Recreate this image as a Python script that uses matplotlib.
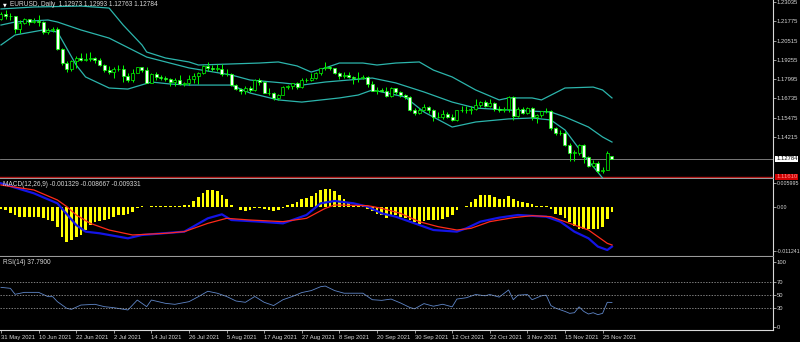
import numpy as np
import matplotlib.pyplot as plt
from matplotlib.transforms import blended_transform_factory

plt.rcParams['font.family'] = ['Liberation Sans', 'DejaVu Sans']

# ---- price data (EURUSD daily, 31 May 2021 .. 29 Nov 2021) ----
opens = [1.2193, 1.2227, 1.2213, 1.2212, 1.2127, 1.2167, 1.2193, 1.2173, 1.2180, 1.2175,
         1.2108, 1.2121, 1.2125, 1.1995, 1.1906, 1.1863, 1.1917, 1.1941, 1.1926, 1.1930,
         1.1936, 1.1925, 1.1895, 1.1858, 1.1848, 1.1865, 1.1866, 1.1823, 1.1791, 1.1843,
         1.1876, 1.1861, 1.1775, 1.1835, 1.1813, 1.1806, 1.1800, 1.1780, 1.1793, 1.1771,
         1.1772, 1.1801, 1.1818, 1.1842, 1.1888, 1.1870, 1.1869, 1.1869, 1.1835, 1.1832,
         1.1761, 1.1736, 1.1720, 1.1740, 1.1727, 1.1796, 1.1780, 1.1712, 1.1709, 1.1675,
         1.1699, 1.1747, 1.1754, 1.1772, 1.1751, 1.1795, 1.1797, 1.1807, 1.1837, 1.1875,
         1.1880, 1.1870, 1.1840, 1.1818, 1.1825, 1.1813, 1.1808, 1.1804, 1.1817, 1.1765,
         1.1725, 1.1728, 1.1724, 1.1688, 1.1740, 1.1719, 1.1695, 1.1683, 1.1597, 1.1580,
         1.1596, 1.1620, 1.1597, 1.1554, 1.1552, 1.1572, 1.1552, 1.1530, 1.1595, 1.1598,
         1.1601, 1.1607, 1.1634, 1.1651, 1.1623, 1.1644, 1.1608, 1.1596, 1.1603, 1.1682,
         1.1557, 1.1608, 1.1580, 1.1611, 1.1554, 1.1567, 1.1589, 1.1593, 1.1480, 1.1445,
         1.1445, 1.1368, 1.1320, 1.1320, 1.1370, 1.1289, 1.1235, 1.1250, 1.1198, 1.1209,
         1.12973]
highs = [1.2241, 1.2254, 1.2229, 1.2214, 1.2185, 1.2199, 1.2195, 1.2199, 1.2218, 1.2181,
         1.2132, 1.2143, 1.2140, 1.2000, 1.1917, 1.1922, 1.1954, 1.1970, 1.1968, 1.1975,
         1.1945, 1.1938, 1.1900, 1.1884, 1.1876, 1.1895, 1.1895, 1.1838, 1.1868, 1.1880,
         1.1880, 1.1880, 1.1838, 1.1849, 1.1829, 1.1823, 1.1809, 1.1804, 1.1829, 1.1781,
         1.1826, 1.1841, 1.1849, 1.1892, 1.1909, 1.1892, 1.1898, 1.1901, 1.1864, 1.1838,
         1.1765, 1.1744, 1.1752, 1.1752, 1.1800, 1.1805, 1.1785, 1.1740, 1.1716, 1.1705,
         1.1752, 1.1764, 1.1775, 1.1780, 1.1810, 1.1810, 1.1840, 1.1845, 1.1875, 1.1909,
         1.1885, 1.1873, 1.1845, 1.1845, 1.1845, 1.1820, 1.1845, 1.1830, 1.1820, 1.1785,
         1.1750, 1.1745, 1.1750, 1.1750, 1.1745, 1.1720, 1.1700, 1.1690, 1.1610, 1.1610,
         1.1640, 1.1625, 1.1605, 1.1585, 1.1595, 1.1585, 1.1572, 1.1600, 1.1625, 1.1624,
         1.1625, 1.1668, 1.1660, 1.1665, 1.1670, 1.1650, 1.1625, 1.1620, 1.1692, 1.1692,
         1.1615, 1.1615, 1.1616, 1.1620, 1.1570, 1.1594, 1.1609, 1.1595, 1.1485, 1.1465,
         1.1464, 1.1386, 1.1340, 1.1374, 1.1373, 1.1300, 1.1274, 1.1262, 1.1225, 1.1331,
         1.12993]
lows = [1.2188, 1.2195, 1.2184, 1.2103, 1.2104, 1.2158, 1.2153, 1.2166, 1.2144, 1.2093,
        1.2093, 1.2105, 1.1990, 1.1892, 1.1847, 1.1850, 1.1874, 1.1920, 1.1916, 1.1920,
        1.1905, 1.1883, 1.1847, 1.1835, 1.1807, 1.1855, 1.1782, 1.1781, 1.1782, 1.1839,
        1.1845, 1.1772, 1.1772, 1.1796, 1.1796, 1.1788, 1.1755, 1.1752, 1.1762, 1.1752,
        1.1764, 1.1772, 1.1771, 1.1836, 1.1853, 1.1856, 1.1852, 1.1821, 1.1822, 1.1754,
        1.1730, 1.1706, 1.1705, 1.1718, 1.1724, 1.1762, 1.1711, 1.1695, 1.1664, 1.1664,
        1.1696, 1.1734, 1.1735, 1.1735, 1.1740, 1.1780, 1.1790, 1.1800, 1.1825, 1.1860,
        1.1862, 1.1833, 1.1800, 1.1806, 1.1810, 1.1770, 1.1780, 1.1800, 1.1750, 1.1722,
        1.1701, 1.1713, 1.1685, 1.1685, 1.1700, 1.1680, 1.1670, 1.1592, 1.1563, 1.1570,
        1.1590, 1.1580, 1.1529, 1.1545, 1.1540, 1.1545, 1.1524, 1.1525, 1.1585, 1.1580,
        1.1570, 1.1600, 1.1620, 1.1620, 1.1620, 1.1590, 1.1586, 1.1585, 1.1585, 1.1535,
        1.1555, 1.1575, 1.1570, 1.1530, 1.1513, 1.1555, 1.1576, 1.1465, 1.1433, 1.1432,
        1.1366, 1.1263, 1.1264, 1.1307, 1.1250, 1.1226, 1.1226, 1.1186, 1.1186, 1.1204,
        1.12763]
closes = [1.2227, 1.2213, 1.2212, 1.2127, 1.2167, 1.2193, 1.2173, 1.2180, 1.2175, 1.2108,
          1.2121, 1.2125, 1.1995, 1.1906, 1.1863, 1.1917, 1.1941, 1.1926, 1.1930, 1.1936,
          1.1925, 1.1895, 1.1858, 1.1848, 1.1865, 1.1866, 1.1823, 1.1791, 1.1843, 1.1876,
          1.1861, 1.1775, 1.1835, 1.1813, 1.1806, 1.1800, 1.1780, 1.1793, 1.1771, 1.1772,
          1.1801, 1.1818, 1.1842, 1.1888, 1.1870, 1.1869, 1.1869, 1.1835, 1.1832, 1.1761,
          1.1736, 1.1720, 1.1740, 1.1727, 1.1796, 1.1780, 1.1712, 1.1709, 1.1675, 1.1699,
          1.1747, 1.1754, 1.1772, 1.1751, 1.1795, 1.1797, 1.1807, 1.1837, 1.1875, 1.1880,
          1.1870, 1.1840, 1.1818, 1.1825, 1.1813, 1.1808, 1.1804, 1.1817, 1.1765, 1.1725,
          1.1728, 1.1724, 1.1688, 1.1740, 1.1719, 1.1695, 1.1683, 1.1597, 1.1580, 1.1596,
          1.1620, 1.1597, 1.1554, 1.1552, 1.1572, 1.1552, 1.1530, 1.1595, 1.1598, 1.1601,
          1.1607, 1.1634, 1.1651, 1.1623, 1.1644, 1.1608, 1.1596, 1.1603, 1.1682, 1.1557,
          1.1608, 1.1580, 1.1611, 1.1554, 1.1567, 1.1589, 1.1593, 1.1480, 1.1445, 1.1445,
          1.1368, 1.1320, 1.1320, 1.1370, 1.1289, 1.1235, 1.1250, 1.1198, 1.1209, 1.1318,
          1.12784]

# Bollinger bands (at selected bars)
bb_up_idx = [0, 7, 17, 23, 26, 30, 31, 35, 40, 42, 49, 55, 59, 63, 66, 69, 72, 77, 80, 84,
             89, 92, 96, 101, 106, 108, 113, 115, 120, 126, 128, 130]
bb_up = [1.2258, 1.2271, 1.2277, 1.2264, 1.2153, 1.2023, 1.1977, 1.1938, 1.1912, 1.1892,
         1.1899, 1.1905, 1.1912, 1.1886, 1.1846, 1.1873, 1.1905, 1.1905, 1.1892, 1.1905,
         1.1912, 1.1859, 1.1814, 1.1729, 1.1664, 1.1677, 1.1677, 1.1664, 1.1742, 1.1748,
         1.1729, 1.1677]
bb_mid_idx = [0, 3, 10, 12, 17, 23, 31, 40, 49, 53, 60, 64, 69, 74, 79, 84, 90, 96, 101,
              108, 117, 120, 125, 128, 130]
bb_mid = [1.2153, 1.2173, 1.2186, 1.2173, 1.2121, 1.2068, 1.1944, 1.1873, 1.1827, 1.1794,
          1.1775, 1.1761, 1.1781, 1.1794, 1.1807, 1.1775, 1.1716, 1.1650, 1.1611, 1.1598,
          1.1585, 1.1553, 1.1487, 1.1422, 1.1389]
bb_low_idx = [0, 3, 9, 12, 13, 16, 18, 23, 27, 32, 36, 40, 49, 53, 59, 64, 72, 76, 79, 81,
              86, 90, 96, 101, 108, 113, 117, 120, 124, 128]
bb_low = [1.2023, 1.2088, 1.2121, 1.2108, 1.2055, 1.1892, 1.1814, 1.1742, 1.1735, 1.1781,
          1.1768, 1.1761, 1.1761, 1.1709, 1.1664, 1.1650, 1.1677, 1.1696, 1.1729, 1.1716,
          1.1683, 1.1585, 1.1487, 1.1520, 1.1540, 1.1546, 1.1533, 1.1468, 1.1304, 1.1154]

# MACD(12,26,9), values in thousandths
macd_hist = [-0.43, -0.68, -1.45, -2.13, -2.55, -2.55, -2.55, -2.55, -2.64, -2.81,
             -3.40, -3.66, -5.10, -7.65, -8.93, -8.50, -7.65, -7.06, -5.95, -4.68,
             -3.83, -3.66, -3.40, -2.98, -2.55, -2.13, -2.13, -1.70, -1.28, -0.17,
             0.25, 0.10, 0.30, 0.25, 0.30, 0.35, 0.25, 0.30, 0.35, 0.45,
             0.60, 1.45, 2.55, 3.66, 4.25, 4.25, 4.00, 2.98, 1.96, 0.60,
             -0.05, -0.85, -1.10, -0.68, -0.17, -0.17, -0.43, -0.85, -1.10, -0.85,
             -0.17, 0.43, 0.85, 1.28, 1.96, 2.38, 2.81, 3.66, 4.25, 4.50,
             4.50, 4.00, 2.98, 1.96, 1.10, 0.60, 0.43, 0.17, -0.43, -1.10,
             -1.70, -2.13, -2.81, -2.13, -2.13, -2.55, -2.81, -3.40, -3.83, -4.25,
             -3.66, -3.23, -3.23, -3.40, -2.98, -2.55, -1.96, -0.85, 0.00, 0.34,
             1.28, 2.13, 2.98, 3.15, 2.98, 2.55, 1.96, 2.13, 2.81, 1.96,
             1.45, 1.28, 1.02, 0.77, 0.26, 0.17, 0.26, -0.43, -1.70, -2.13,
             -2.81, -3.83, -4.93, -5.53, -5.53, -5.70, -5.70, -5.53, -5.10, -3.15,
             -1.33]
macd_main_idx = [0, 7, 12, 16, 18, 21, 27, 30, 39, 44, 47, 49, 55, 60, 65, 68, 71, 75, 78,
                 81, 84, 88, 92, 97, 99, 102, 106, 110, 116, 119, 122, 125, 127, 129, 130]
macd_main = [6.04, 3.49, 0.94, -4.59, -6.29, -6.71, -7.99, -7.14, -6.29, -2.89, -1.87,
             -3.32, -3.74, -4.17, -2.04, 0.94, 1.53, 0.94, 0.09, -1.62, -2.47, -4.17, -5.87,
             -6.29, -5.44, -3.74, -2.72, -2.04, -2.47, -3.74, -6.29, -7.99, -10.1, -10.97,
             -10.1]
macd_sig_idx = [0, 7, 12, 14, 16, 19, 23, 28, 35, 39, 44, 48, 53, 60, 65, 69, 71, 78, 81,
                85, 89, 93, 97, 100, 104, 109, 113, 117, 121, 125, 129, 130]
macd_sig = [5.61, 4.34, 1.79, 0.09, -2.04, -4.17, -5.87, -7.14, -6.71, -6.29, -4.17, -2.89,
            -3.32, -3.74, -2.89, -0.34, 0.51, 0.34, -0.34, -1.62, -3.74, -5.02, -5.87,
            -5.44, -3.74, -2.72, -2.21, -2.47, -4.17, -5.87, -9.27, -9.69]

# RSI(14)
rsi_idx = [0, 2, 3, 5, 8, 10, 11, 12, 14, 15, 17, 20, 22, 24, 27, 28, 29, 31, 32, 35,
           37, 40, 42, 44, 46, 48, 50, 52, 54, 56, 58, 60, 62, 64, 66, 68, 69, 71, 73, 75,
           77, 79, 81, 83, 85, 87, 88, 90, 92, 94, 96, 97, 99, 101, 103, 104, 106, 108, 109,
           110, 112, 113, 115, 116, 117, 118, 120, 121, 122, 123, 124, 125, 126, 127, 128,
           129, 130]
rsi_vals = [61, 59.5, 50.3, 53.3, 53.3, 46.7, 46.7, 39, 28.7, 27.2, 33.8, 34.9, 31.3, 29.7,
            26.2, 33.8, 41.5, 31.3, 41.5, 36.4, 34.9, 39, 46.7, 55, 52, 47, 40, 38, 47, 38,
            33, 42, 47, 53, 56, 62, 63, 56, 52, 52, 52, 42, 41, 43, 37, 30, 28, 36, 32, 35,
            31, 43, 45, 50, 48, 50, 46, 57, 42, 49, 50, 42, 48, 49, 33, 29, 24, 21, 22, 31,
            24, 20, 22, 19, 21, 38, 37.79]

date_labels = ['31 May 2021', '10 Jun 2021', '22 Jun 2021', '2 Jul 2021', '14 Jul 2021',
               '26 Jul 2021', '5 Aug 2021', '17 Aug 2021', '27 Aug 2021', '8 Sep 2021',
               '20 Sep 2021', '30 Sep 2021', '12 Oct 2021', '22 Oct 2021', '3 Nov 2021',
               '15 Nov 2021', '25 Nov 2021']
date_idx = [0, 8, 16, 24, 32, 40, 48, 56, 64, 72, 80, 88, 96, 104, 112, 120, 128]

price_ticks = [1.23035, 1.21775, 1.20515, 1.19255, 1.17995, 1.16735, 1.15475, 1.14215]
alert_level = 1.11610

# ---- layout in pixels (800 x 342) ----
W, H = 800, 342
FG = '#d8d8d8'
FS = 4.2


def rect(x0, y0, x1, y1):
    return [x0 / W, 1 - y1 / H, (x1 - x0) / W, (y1 - y0) / H]


fig = plt.figure(figsize=(8, 3.42), dpi=100, facecolor='black')
ax_p = fig.add_axes(rect(0, 0, 773, 178))
ax_m = fig.add_axes(rect(0, 179, 773, 256))
ax_r = fig.add_axes(rect(0, 257, 773, 330))

xlim = (-0.21, 164.26)
for ax in (ax_p, ax_m, ax_r):
    ax.set_facecolor('black')
    ax.set_xlim(*xlim)
    ax.spines['top'].set_visible(False)
    ax.spines['left'].set_visible(False)
    ax.spines['right'].set_color(FG)
    ax.spines['right'].set_linewidth(0.8)
    ax.spines['bottom'].set_color('#9a9a9a')
    ax.spines['bottom'].set_linewidth(0.8)
    ax.yaxis.tick_right()
    ax.tick_params(axis='y', colors=FG, labelsize=FS, length=2, width=0.5, pad=0.6)

# ---- price panel ----
x = np.arange(len(closes))
o = np.array(opens)
c = np.array(closes)
ax_p.vlines(x, lows, highs, color='#00ff00', lw=0.7, zorder=2)
body = np.where(np.abs(c - o) < 0.00008, 0.00008, c - o)
fill = ['white' if cc < oo else 'black' for oo, cc in zip(o, c)]
ax_p.bar(x, body, bottom=o, width=0.64, color=fill, edgecolor='#00ff00',
         linewidth=0.5, zorder=3)

band_col = '#2cb5ac'
ax_p.plot(bb_up_idx, bb_up, color=band_col, lw=0.9, zorder=1)
ax_p.plot(bb_mid_idx, bb_mid, color=band_col, lw=0.9, zorder=1)
ax_p.plot(bb_low_idx, bb_low, color=band_col, lw=0.9, zorder=1)

ax_p.axhline(closes[-1], color='#8c8c8c', lw=0.6, zorder=0)
ax_p.axhline(alert_level, color='#b01010', lw=1.0, zorder=0)

ax_p.set_ylim(1.11542, 1.23166)
ax_p.set_yticks(price_ticks)
ax_p.set_yticklabels([f'{v:.5f}' for v in price_ticks])
ax_p.set_xticks([])

tr = blended_transform_factory(ax_p.transAxes, ax_p.transData)
ax_p.text(1.004, closes[-1], f'{closes[-1]:.5f}', transform=tr, fontsize=FS,
          color='black', va='center', ha='left',
          bbox=dict(boxstyle='square,pad=0.15', fc='white', ec='none'))
ax_p.text(1.004, alert_level, f'{alert_level:.5f}', transform=tr, fontsize=FS,
          color='#ff9090', va='center', ha='left', clip_on=False,
          bbox=dict(boxstyle='square,pad=0.15', fc='#d00000', ec='none'))

ax_p.text(3 / 773, 1 - 5 / 178, '\u25bc', transform=ax_p.transAxes, fontsize=3.5,
          color='white', va='center', ha='left', family='DejaVu Sans')
ax_p.text(10 / 773, 1 - 5 / 178,
          f'EURUSD, Daily  {opens[-1]:.5f} {highs[-1]:.5f} {lows[-1]:.5f} {closes[-1]:.5f}',
          transform=ax_p.transAxes, fontsize=4.7, color=FG, va='center', ha='left')

# ---- MACD panel ----
mh = np.array(macd_hist) * 1e-3
ax_m.bar(x, mh, width=0.58, color='#ffff00', linewidth=0, zorder=1)
ax_m.plot(macd_main_idx, np.array(macd_main) * 1e-3, color='#1414e6', lw=1.6, zorder=2)
ax_m.plot(macd_sig_idx, np.array(macd_sig) * 1e-3, color='#ff2a1a', lw=0.9, zorder=3)
ax_m.set_ylim(-0.0125, 0.00714)
macd_ticks = [0.005995, 0.0, -0.011241]
ax_m.set_yticks(macd_ticks)
ax_m.set_yticklabels(['0.005995', '0.00', '-0.011241'])
ax_m.tick_params(axis='y', labelsize=3.8, pad=0.4)
ax_m.set_xticks([])
ax_m.text(3 / 773, 1 - 6 / 77, 'MACD(12,26,9) -0.001329 -0.008667 -0.009331',
          transform=ax_m.transAxes, fontsize=4.7, color=FG, va='center', ha='left')

# ---- RSI panel ----
ax_r.plot(rsi_idx, rsi_vals, color='#5f86c8', lw=0.6)
for lvl in (70, 50, 30):
    ax_r.axhline(lvl, color='#b0b0b0', lw=0.5, linestyle=(0, (2, 2)))
ax_r.set_ylim(-4.6, 107.7)
ax_r.set_yticks([100, 70, 50, 30, 0])
ax_r.set_yticklabels(['100', '70', '50', '30', '0'])
ax_r.text(3 / 773, 1 - 6 / 73, f'RSI(14) {rsi_vals[-1]:.4f}',
          transform=ax_r.transAxes, fontsize=4.7, color=FG, va='center', ha='left')

ax_r.spines['bottom'].set_color(FG)
ax_r.set_xticks(date_idx)
ax_r.set_xticklabels(date_labels)
ax_r.tick_params(axis='x', colors=FG, labelsize=FS, length=2, width=0.5, pad=1.5)
for lab in ax_r.get_xticklabels():
    lab.set_ha('left')

fig.savefig('out.png', dpi=100, facecolor='black')
